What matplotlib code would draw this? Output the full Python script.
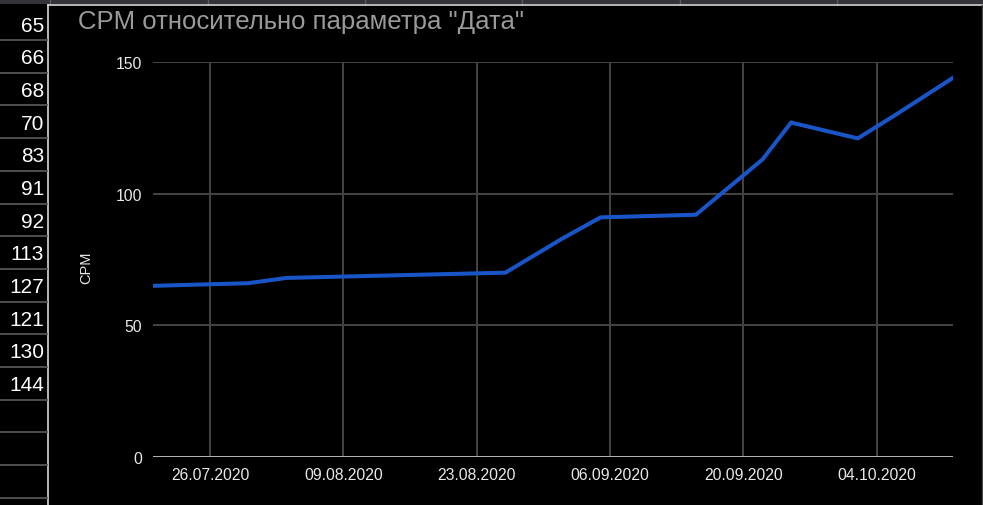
import matplotlib
matplotlib.use("Agg")
import matplotlib.pyplot as plt
import matplotlib.dates as mdates
from matplotlib.lines import Line2D
from matplotlib.patches import Rectangle
from datetime import datetime

plt.rcParams['font.family'] = ['Liberation Sans', 'DejaVu Sans']

# data
dates = ["20.07.2020", "30.07.2020", "03.08.2020", "26.08.2020", "01.09.2020", "05.09.2020",
         "15.09.2020", "22.09.2020", "25.09.2020", "02.10.2020", "06.10.2020", "12.10.2020"]
cpm = [65, 66, 68, 70, 83, 91, 92, 113, 127, 121, 130, 144]
tick_dates = ["26.07.2020", "09.08.2020", "23.08.2020", "06.09.2020", "20.09.2020", "04.10.2020"]
yticks = [0, 50, 100, 150]
title = 'CPM относительно параметра "Дата"'

W, H = 983, 506
fig = plt.figure(figsize=(W / 100, H / 100), dpi=100)
fig.patch.set_facecolor("black")


def fx(x):
    return x / W


def fy(y):
    return 1 - y / H


# spreadsheet bits around the chart
fig.add_artist(Rectangle((0, fy(5)), 1, 5 / H, transform=fig.transFigure,
                         facecolor="#343438", edgecolor="none"))
for x in [50, 208, 365, 522, 680, 837]:
    fig.add_artist(Line2D([fx(x), fx(x)], [fy(0), fy(5)], transform=fig.transFigure,
                          color="#5a5a60", lw=1))
fig.add_artist(Line2D([fx(48), 1], [fy(5.5), fy(5.5)], transform=fig.transFigure,
                      color="#d8d8d8", lw=1.2))
fig.add_artist(Line2D([fx(48), fx(48)], [0, fy(5.5)], transform=fig.transFigure,
                      color="#d8d8d8", lw=1.2))
fig.add_artist(Line2D([fx(981.5), fx(981.5)], [0, fy(5.5)], transform=fig.transFigure,
                      color="#444444", lw=1))
for k in range(15):
    y = 41 + 32.7 * k
    fig.add_artist(Line2D([0, fx(47)], [fy(y), fy(y)], transform=fig.transFigure,
                          color="#555555", lw=1.3))
for k, v in enumerate(cpm):
    fig.text(fx(44), fy(26 + 32.7 * k), str(v), color="white", fontsize=15,
             ha="right", va="center")

fig.text(fx(78), fy(22), title, color="#9a9a9a", fontsize=18.5, ha="left", va="center")

ax = fig.add_axes([fx(153), fy(458), fx(953) - fx(153), fy(63) - fy(458)])
ax.set_facecolor("black")

x = [datetime.strptime(d, "%d.%m.%Y") for d in dates]
ax.plot(x, cpm, color="#1a55c8", lw=2.9, solid_joinstyle="miter", zorder=3)

ax.set_xlim(x[0], x[-1])
ax.set_ylim(0, 150)
ax.set_yticks(yticks)
ax.set_xticks([datetime.strptime(d, "%d.%m.%Y") for d in tick_dates])
ax.xaxis.set_major_formatter(mdates.DateFormatter("%d.%m.%Y"))
ax.grid(True, color="#444444", lw=1.4)
ax.axhline(0, color="#bdbdbd", lw=2, zorder=2)
for s in ax.spines.values():
    s.set_visible(False)
ax.tick_params(length=0, colors="#e8e8e8", labelsize=11.3)
ax.tick_params(axis="x", pad=7)
ax.tick_params(axis="y", pad=8)
ax.set_ylabel("CPM", color="#e8e8e8", fontsize=10.5)
ax.yaxis.set_label_coords((93 - 153) / 800, (458 - 268) / 395)

fig.savefig("out.png", dpi=100, facecolor="black")
